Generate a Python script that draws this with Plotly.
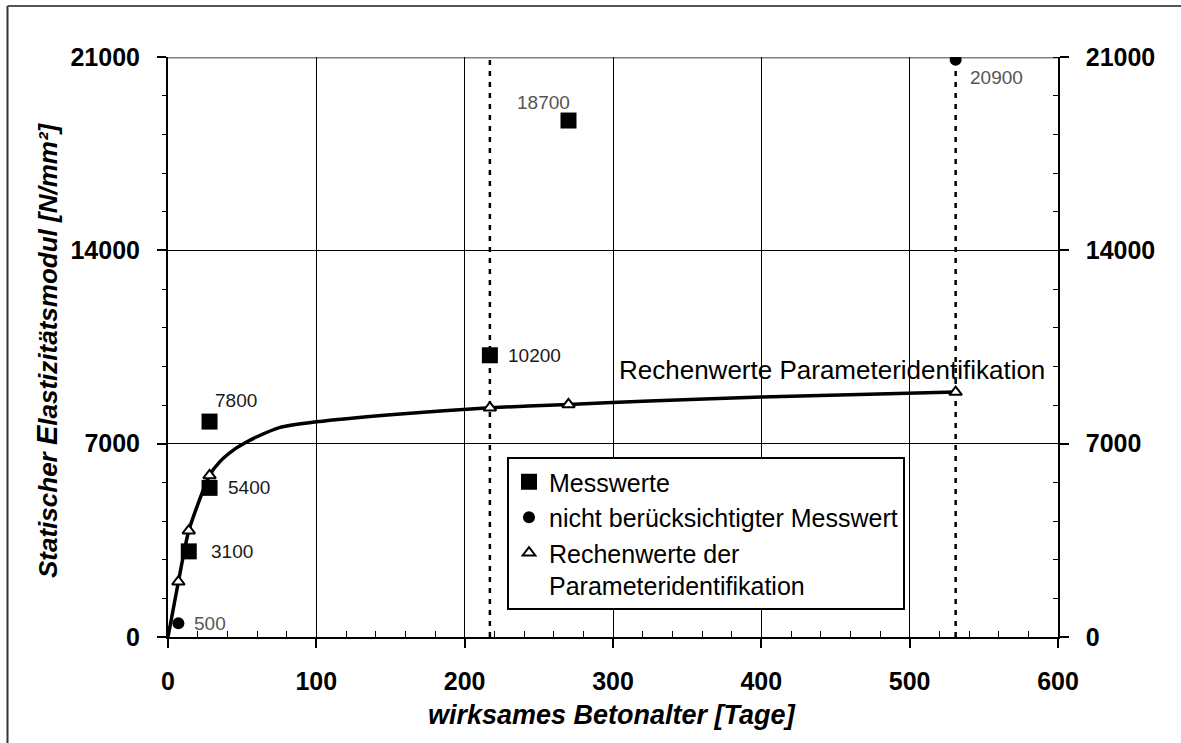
import plotly.graph_objects as go

# Effective concrete age [days] and static modulus of elasticity [N/mm²]
curve_age = [0, 7, 14, 28, 35, 45, 53, 60, 75, 100, 150, 217, 270, 320, 400, 531]
curve_E = [0, 2000, 3850, 5850, 6350, 6800, 7060, 7250, 7580, 7790, 8050, 8300, 8420, 8540, 8690, 8870]

mess_age = [14, 28, 28, 217, 270]
mess_E = [3100, 5400, 7800, 10200, 18700]

outlier_age = [7, 531]
outlier_E = [500, 20900]

calc_age = [7, 14, 28, 217, 270, 531]
calc_E = [2000, 3850, 5850, 8300, 8420, 8870]

ref_ages = [217, 531]

x_ticks = [0, 100, 200, 300, 400, 500, 600]
y_ticks = [0, 7000, 14000, 21000]

FONT = "Liberation Sans, Arial, sans-serif"
W, H = 1181, 743
L, R, T, B = 168, 123, 57, 106

fig = go.Figure()

# vertical dotted reference lines at selected ages
for a in ref_ages:
    fig.add_trace(go.Scatter(
        x=[a, a], y=[0, y_ticks[-1]], mode="lines",
        line=dict(color="black", width=2.5, dash="5px,6px"),
        showlegend=False, hoverinfo="skip"))

# fitted curve
fig.add_trace(go.Scatter(
    x=curve_age, y=curve_E, mode="lines",
    line=dict(color="black", width=3.5, shape="spline", smoothing=0.6),
    showlegend=False, hoverinfo="skip"))

fig.add_trace(go.Scatter(
    x=mess_age, y=mess_E, mode="markers", name="Messwerte",
    marker=dict(symbol="square", size=16, color="black")))

fig.add_trace(go.Scatter(
    x=outlier_age, y=outlier_E, mode="markers", name="nicht berücksichtigter Messwert",
    marker=dict(symbol="circle", size=12, color="black")))

fig.add_trace(go.Scatter(
    x=calc_age, y=calc_E, mode="markers",
    name="Rechenwerte der<br>Parameteridentifikation",
    marker=dict(symbol="triangle-up", size=11, color="white",
                line=dict(color="black", width=2))))

# invisible trace to carry the right-hand axis
fig.add_trace(go.Scatter(x=[0], y=[0], yaxis="y2", mode="markers",
                         marker=dict(opacity=0), showlegend=False, hoverinfo="skip"))

tickfont = dict(family=FONT, size=25, color="black", weight="bold")

fig.update_layout(
    width=W, height=H,
    margin=dict(l=L, r=R, t=T, b=B),
    paper_bgcolor="white", plot_bgcolor="white",
    font=dict(family=FONT, color="black"),
    showlegend=True,
    legend=dict(
        x=(507 - L) / (W - L - R), y=(H - B - 457) / (H - T - B),
        xanchor="left", yanchor="top", valign="top",
        bgcolor="white", bordercolor="black", borderwidth=2,
        font=dict(family=FONT, size=25, color="black"),
        tracegroupgap=0, itemwidth=30,
    ),
    xaxis=dict(
        range=[0, 600], tickvals=x_ticks, ticktext=[str(v) for v in x_ticks],
        showgrid=True, gridcolor="black", gridwidth=1,
        showline=True, linecolor="black", linewidth=2,
        zeroline=False,
        ticks="outside", ticklen=9, tickwidth=1.5, tickcolor="black",
        minor=dict(dtick=20, ticks="inside", ticklen=6, tickwidth=1.2,
                   tickcolor="black", showgrid=False),
        tickfont=tickfont, ticklabelstandoff=12,
    ),
    yaxis=dict(
        range=[0, 21000], tickvals=y_ticks, ticktext=[str(v) for v in y_ticks],
        showgrid=True, gridcolor="black", gridwidth=1,
        showline=True, linecolor="black", linewidth=2,
        zeroline=False,
        ticks="outside", ticklen=9, tickwidth=1.5, tickcolor="black",
        minor=dict(dtick=1400, ticks="outside", ticklen=4, tickwidth=1.2,
                   tickcolor="black", showgrid=False),
        tickfont=tickfont, ticklabelstandoff=12,
    ),
    yaxis2=dict(
        range=[0, 21000], tickvals=y_ticks, ticktext=[str(v) for v in y_ticks],
        overlaying="y", side="right", showgrid=False,
        showline=True, linecolor="black", linewidth=1.5,
        zeroline=False,
        ticks="outside", ticklen=9, tickwidth=1.5, tickcolor="black",
        minor=dict(dtick=1400, ticks="inside", ticklen=5, tickwidth=1.2,
                   tickcolor="black"),
        tickfont=tickfont, ticklabelstandoff=12,
    ),
)

# top border of the plotting area
fig.add_shape(type="line", xref="paper", yref="y", x0=0, x1=1, y0=21000, y1=21000,
              line=dict(color="#808080", width=3), layer="between")

# outer frame of the figure (left and top edges)
px_x = lambda p: (p - L) / (W - L - R)
px_y = lambda p: (H - B - p) / (H - T - B)
fig.add_shape(type="line", xref="paper", yref="paper",
              x0=px_x(7.5), x1=px_x(7.5), y0=px_y(6), y1=px_y(H + 5),
              line=dict(color="#333333", width=2))
fig.add_shape(type="line", xref="paper", yref="paper",
              x0=px_x(7.5), x1=px_x(W + 5), y0=px_y(6), y1=px_y(6),
              line=dict(color="#555555", width=2))

# value labels
dark, grey = "#1a1a1a", "#555555"
label_style = [
    # (x, y, xanchor, yanchor, xshift, yshift, colour)
    (mess_age[0], mess_E[0], "left", "middle", 20, 0, dark),
    (mess_age[1], mess_E[1], "left", "middle", 16, 0, dark),
    (mess_age[2], mess_E[2], "left", "middle", 3, 21, dark),
    (mess_age[3], mess_E[3], "left", "middle", 16, 0, dark),
    (mess_age[4], mess_E[4], "right", "middle", 3, 18, grey),
]
for (x, y, xa, ya, xs, ys, c) in label_style:
    fig.add_annotation(x=x, y=y, xref="x", yref="y", text=f"{y}", showarrow=False,
                       xanchor=xa, yanchor=ya, xshift=xs, yshift=ys,
                       font=dict(family=FONT, size=19, color=c))
fig.add_annotation(x=outlier_age[0], y=outlier_E[0], text=f"{outlier_E[0]}", showarrow=False,
                   xanchor="left", yanchor="middle", xshift=14, yshift=0,
                   font=dict(family=FONT, size=19, color=grey))
fig.add_annotation(x=outlier_age[1], y=outlier_E[1], text=f"{outlier_E[1]}", showarrow=False,
                   xanchor="left", yanchor="middle", xshift=12, yshift=-18,
                   font=dict(family=FONT, size=19, color=grey))

# curve label
fig.add_annotation(x=px_x(1047), y=px_y(370), xref="paper", yref="paper",
                   text="Rechenwerte Parameteridentifikation", showarrow=False,
                   xanchor="right", yanchor="middle",
                   font=dict(family=FONT, size=26, color="black"))

# axis titles
fig.add_annotation(x=px_x(612), y=px_y(715), xref="paper", yref="paper",
                   text="<b><i>wirksames Betonalter [Tage]</i></b>", showarrow=False,
                   xanchor="center", yanchor="middle",
                   font=dict(family=FONT, size=27, color="black"))
fig.add_annotation(x=px_x(47), y=px_y(350), xref="paper", yref="paper",
                   text="<b><i>Statischer <span style='font-size:29px'>E</span>lastizitätsmodul [N/mm²]</i></b>",
                   showarrow=False, textangle=-90,
                   xanchor="center", yanchor="middle",
                   font=dict(family=FONT, size=26, color="black"))

fig.write_html("out.html")
